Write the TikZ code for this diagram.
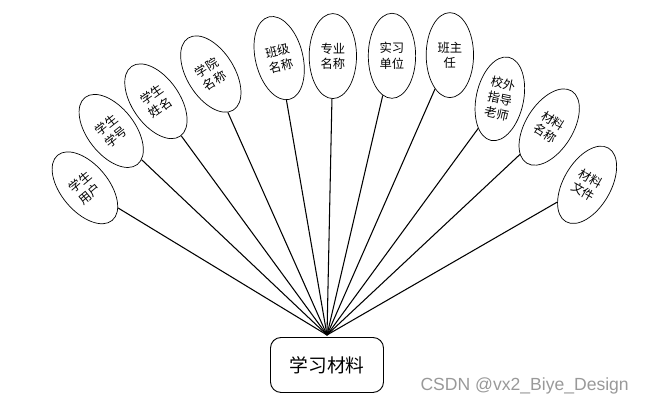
\documentclass[tikz,border=0pt]{standalone}
\usepackage{fontspec}
\setmainfont{Liberation Sans}
\newfontfamily\cjk{Noto Sans CJK SC}
\usepackage{tikz}
\usetikzlibrary{shapes.geometric}

\begin{document}
\begin{tikzpicture}[
    attr/.style={ellipse, draw, line width=0.6pt, inner sep=0pt,
      minimum width=1.42cm, minimum height=2.55cm,
      font=\cjk\fontsize{10.5}{13}\selectfont, align=center},
    entity/.style={draw, rounded corners=9pt, line width=0.8pt,
      minimum width=3.39cm, minimum height=1.65cm,
      font=\cjk\fontsize{16}{18}\selectfont},
    link/.style={line width=0.9pt}
  ]
    \useasboundingbox (-9.81,-2.13) rectangle (9.6,10.05);

    \coordinate (hub) at (0,0);

    \node[entity, anchor=north] (box) at (0,-0.06) {学习材料};

    \node[attr, rotate=40] (e1) at (148.7:8.50) {学生\\用户};
    \node[attr, rotate=38] (e2) at (136.6:8.91) {学生\\学号};
    \node[attr, rotate=35] (e3) at (126.2:8.69) {学生\\姓名};
    \node[attr, rotate=32] (e4) at (114.0:8.57) {学院\\名称};
    \node[attr, rotate=14] (e5) at (99.8:8.43) {班级\\名称};
    \node[attr] (e6) at (88.8:8.37) {专业\\名称};
    \node[attr] (e7) at (76.9:8.60) {实习\\单位};
    \node[attr] (e8) at (66.3:9.17) {班主\\任};
    \node[attr, rotate=-12] (e9) at (53.8:8.78) {校外\\指导\\老师};
    \node[attr, rotate=-32] (e10) at (43.1:9.13) {材料\\名称};
    \node[attr, rotate=-30] (e11) at (30.0:9.01) {材料\\文件};

    \foreach \i in {1,...,11} \draw[link] (hub) -- (e\i);

    \node[text=gray!80, font=\fontsize{15}{17}\selectfont] (mark) at (5.93,-1.53) {CSDN @vx2\_Biye\_Design};
  \end{tikzpicture}
\end{document}
